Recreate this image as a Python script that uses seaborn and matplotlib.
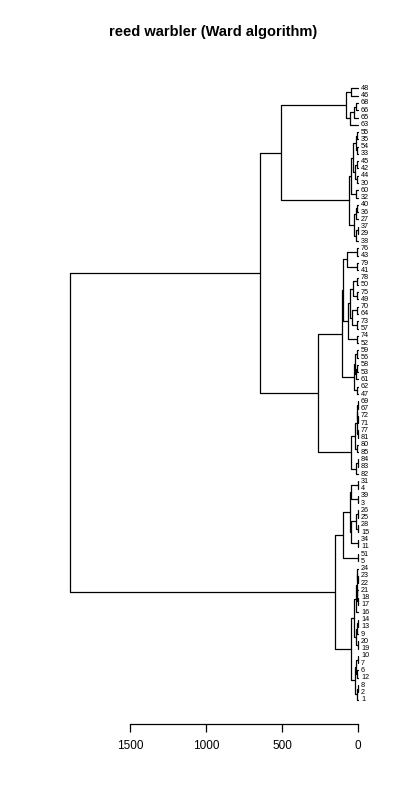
import matplotlib
matplotlib.use("Agg")
import matplotlib.pyplot as plt
import matplotlib.transforms as mtransforms
from matplotlib import font_manager
import pandas as pd
import seaborn as sns

TITLE = "reed warbler (Ward algorithm)"

# leaf labels, top to bottom as drawn
leaves = [48, 46, 68, 66, 65, 63, 55, 35, 54, 33, 45, 42, 44, 30, 60, 32,
          40, 36, 27, 37, 29, 38, 76, 43, 79, 41, 78, 50, 75, 49, 70, 64,
          73, 57, 74, 52, 59, 56, 58, 53, 61, 62, 47, 69, 67, 72, 71, 77,
          81, 80, 85, 84, 83, 82, 31, 4, 39, 3, 26, 25, 28, 15, 34, 11,
          51, 5, 24, 23, 22, 21, 18, 17, 16, 14, 13, 9, 20, 19, 10, 7,
          6, 12, 8, 2, 1]

# merges: ints are leaf labels, "cN" is the N-th merge
merge_left = [
    48, 68, "c1", "c2", "c0", 55, 54, "c5", 45, 44,            # 0-9
    "c8", "c7", 60, "c11", 40, "c14", 37, "c16", "c15", "c13",  # 10-19
    "c4", 76, 79, "c21", 78, 75, "c24", 70, 73, "c27",          # 20-29
    "c26", 74, "c30", "c23", 59, 58, "c35", "c34", 62, "c37",   # 30-39
    "c33", 69, 72, "c41", 77, "c43", 80, "c45", 84, "c48",      # 40-49
    "c47", "c40", "c20", 31, 39, "c53", 26, 28, "c56", 34,      # 50-59
    "c58", "c55", 51, "c61", 23, 24, 18, 21, "c65", "c68",      # 60-69
    14, "c70", 20, "c71", "c69", 10, 6, "c75", 8, "c78",        # 70-79
    "c77", "c74", "c63", "c52",                                 # 80-83
]
merge_right = [
    46, 66, 65, 63, "c3", 35, 33, "c6", 42, 30,                 # 0-9
    "c9", "c10", 32, "c12", 36, 27, 29, 38, "c17", "c18",       # 10-19
    "c19", 43, 41, "c22", 50, 49, "c25", 64, 57, "c28",         # 20-29
    "c29", 52, "c31", "c32", 56, 53, 61, "c36", 47, "c38",      # 30-39
    "c39", 67, 71, "c42", 81, "c44", 85, "c46", 83, 82,         # 40-49
    "c49", "c50", "c51", 4, 3, "c54", 25, 15, "c57", 11,        # 50-59
    "c59", "c60", 5, "c62", 22, "c64", 17, "c66", "c67", 16,    # 60-69
    13, 9, 19, "c72", "c73", 7, 12, "c76", 2, 1,                # 70-79
    "c79", "c80", "c81", "c82",                                 # 80-83
]
merge_height = [
    45, 12, 25, 52, 81, 5, 5, 15, 5, 5,          # 0-9
    22, 35, 12, 45, 5, 15, 3, 10, 25, 62,        # 10-19
    505, 9, 9, 74, 9, 9, 31, 5, 5, 40,           # 20-29
    50, 9, 64, 97, 8, 4, 12, 18, 8, 24,          # 30-39
    107, 2, 2, 5, 3, 8, 5, 18, 3, 12,            # 40-49
    46, 263, 645, 3, 3, 48, 3, 3, 15, 3,         # 50-59
    44, 52, 3, 101, 2, 5, 2, 5, 8, 16,           # 60-69
    3, 8, 3, 12, 25, 2, 5, 10, 3, 8,             # 70-79
    18, 48, 151, 1895,                           # 80-83
]

AXIS_TICKS = [0, 500, 1000, 1500]


def build_segments(leaves, lefts, rights, heights):
    pos = {lab: float(i) for i, lab in enumerate(leaves)}
    hgt = {lab: 0.0 for lab in leaves}
    rows = []
    for k, (a, b, h) in enumerate(zip(lefts, rights, heights)):
        ya, yb = pos[a], pos[b]
        for x, y in zip([hgt[a], h, h, hgt[b]], [ya, ya, yb, yb]):
            rows.append({"link": k, "height": x, "pos": y})
        pos[f"c{k}"] = (ya + yb) / 2
        hgt[f"c{k}"] = h
    return pd.DataFrame(rows)


seg = build_segments(leaves, merge_left, merge_right, merge_height)

installed = {f.name for f in font_manager.fontManager.ttflist}
leaf_family = [f for f in ["Liberation Sans Narrow", "Liberation Sans", "DejaVu Sans"] if f in installed]

sns.set_theme(style="white")
plt.rcParams["font.family"] = ["Liberation Sans", "DejaVu Sans"]
plt.rcParams["text.color"] = "black"
plt.rcParams["xtick.color"] = "black"
plt.rcParams["xtick.labelcolor"] = "black"

fig = plt.figure(figsize=(4, 8), dpi=100)
ax = fig.add_axes([58.4 / 400, 76 / 800, (369.5 - 58.4) / 400, (736 - 76) / 800])

sns.lineplot(data=seg, x="height", y="pos", units="link", estimator=None,
             sort=False, color="black", linewidth=0.9, ax=ax)

n = len(leaves)
pad = 0.04 * (n - 1)
ax.set_ylim(n - 1 + pad, -pad)
top = max(merge_height)
ax.set_xlim(top * 1.04, -top * 0.04)

offset = mtransforms.offset_copy(ax.transData, fig=fig, x=2.2, y=0, units="points")
for i, lab in enumerate(leaves):
    ax.text(0, i, str(lab), transform=offset, fontsize=5.2, family=leaf_family,
            color="black", ha="left", va="center")

for side in ["top", "left", "right"]:
    ax.spines[side].set_visible(False)
ax.spines["bottom"].set_bounds(min(AXIS_TICKS), max(AXIS_TICKS))
ax.spines["bottom"].set_color("black")
ax.spines["bottom"].set_linewidth(0.9)
ax.set_xticks(AXIS_TICKS)
ax.set_xticklabels([str(t) for t in AXIS_TICKS], fontsize=8.5, color="black")
ax.tick_params(axis="x", bottom=True, direction="out", length=6, width=0.9,
               color="black", pad=5.5)
ax.set_yticks([])
ax.set_xlabel("")
ax.set_ylabel("")

fig.text(0.5325, 1 - 32 / 800, TITLE, ha="center", va="center",
         fontsize=10.5, fontweight="bold", color="black")

fig.savefig("out.png", dpi=100, facecolor="white")
